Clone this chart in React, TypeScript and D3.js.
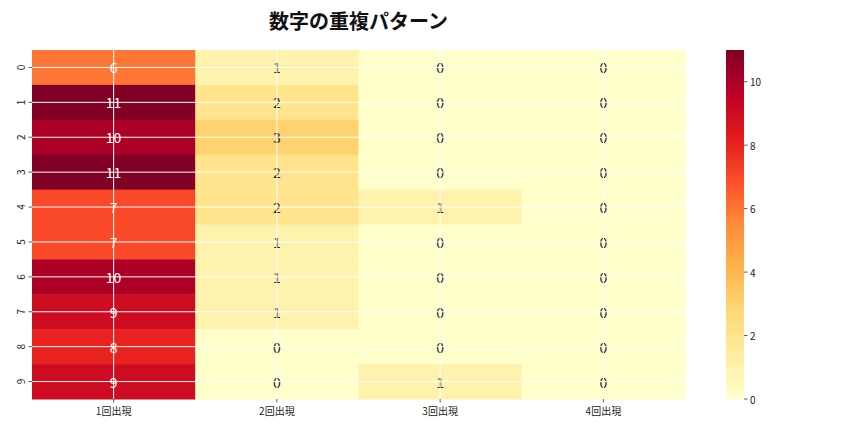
import React from 'react';
import * as d3 from 'd3';

const rowLabels = ['0', '1', '2', '3', '4', '5', '6', '7', '8', '9'];
const colLabels = ['1回出現', '2回出現', '3回出現', '4回出現'];
const once = [6, 11, 10, 11, 7, 7, 10, 9, 8, 9];
const twice = [1, 2, 3, 2, 2, 1, 1, 1, 0, 0];
const thrice = [0, 0, 0, 0, 1, 0, 0, 0, 0, 1];
const fourTimes = [0, 0, 0, 0, 0, 0, 0, 0, 0, 0];
const colorTicks = [0, 2, 4, 6, 8, 10];
const vmax = 11;

const series = [once, twice, thrice, fourTimes];
const font = '"Noto Sans CJK JP", "DejaVu Sans", sans-serif';

const App = () => {
  const W = 864, H = 432;
  const left = 32, right = 685, top = 50, bottom = 399;

  const x = d3.scaleBand().domain(colLabels).range([left, right]);
  const y = d3.scaleBand().domain(rowLabels).range([top, bottom]);

  const stops = d3.schemeYlOrRd[9] as readonly string[];
  const color = d3.scaleLinear<string>()
    .domain(stops.map((_, i) => (i * vmax) / (stops.length - 1)))
    .range(stops as string[])
    .interpolate(d3.interpolateRgb);

  const cb = { x: 726, w: 18 };
  const cy = d3.scaleLinear().domain([0, vmax]).range([bottom, top]);

  const cells = series.flatMap((vals, c) =>
    vals.map((v, r) => ({ c: colLabels[c], r: rowLabels[r], v }))
  );

  // same rule as seaborn: relative luminance of the cell colour
  const textColor = (v: number) => {
    const rgb = d3.rgb(color(v));
    const lin = (u: number) => {
      const s = u / 255;
      return s <= 0.03928 ? s / 12.92 : Math.pow((s + 0.055) / 1.055, 2.4);
    };
    const lum = 0.2126 * lin(rgb.r) + 0.7152 * lin(rgb.g) + 0.0722 * lin(rgb.b);
    return lum > 0.408 ? '#262626' : '#ffffff';
  };

  return (
    <div style={{ position: 'absolute', left: 0, top: 0 }}>
      <svg width={W} height={H} style={{ display: 'block', background: '#fff' }} fontFamily={font}>
        <defs>
          <linearGradient id="cbar" x1="0" y1="1" x2="0" y2="0">
            {stops.map((s, i) => (
              <stop key={i} offset={i / (stops.length - 1)} stopColor={s} />
            ))}
          </linearGradient>
        </defs>

        <text x={(left + right) / 2} y={29} textAnchor="middle" fontSize={20} fontWeight="bold" fill="#111">
          数字の重複パターン
        </text>

        {cells.map((d, i) => (
          <rect key={i} x={x(d.c)} y={y(d.r)} width={x.bandwidth() + 0.5} height={y.bandwidth() + 0.5} fill={color(d.v)} />
        ))}

        {cells.map((d, i) => (
          <text
            key={'t' + i}
            x={(x(d.c) as number) + x.bandwidth() / 2}
            y={(y(d.r) as number) + y.bandwidth() / 2}
            textAnchor="middle"
            dominantBaseline="central"
            fontSize={14}
            fill={textColor(d.v)}
          >
            {d.v}
          </text>
        ))}

        {colLabels.map((c) => {
          const cx = (x(c) as number) + x.bandwidth() / 2;
          return <line key={'gv' + c} x1={cx} x2={cx} y1={top} y2={bottom} stroke="#fff" strokeWidth={1} />;
        })}
        {rowLabels.map((r) => {
          const ry = (y(r) as number) + y.bandwidth() / 2;
          return <line key={'gh' + r} x1={left} x2={right} y1={ry} y2={ry} stroke="#fff" strokeWidth={1} />;
        })}

        {rowLabels.map((r) => {
          const ry = (y(r) as number) + y.bandwidth() / 2;
          return (
            <g key={'yl' + r}>
              <line x1={left - 3.5} x2={left} y1={ry} y2={ry} stroke="#333" strokeWidth={0.8} />
              <text
                transform={`translate(${left - 12},${ry}) rotate(-90)`}
                textAnchor="middle"
                dominantBaseline="central"
                fontSize={10}
                fill="#222"
              >
                {r}
              </text>
            </g>
          );
        })}

        {colLabels.map((c) => {
          const cx = (x(c) as number) + x.bandwidth() / 2;
          return (
            <g key={'xl' + c}>
              <line x1={cx} x2={cx} y1={bottom} y2={bottom + 3.5} stroke="#333" strokeWidth={0.8} />
              <text x={cx} y={415} textAnchor="middle" fontSize={10} fill="#222">
                {c}
              </text>
            </g>
          );
        })}

        <rect x={cb.x} y={top} width={cb.w} height={bottom - top} fill="url(#cbar)" />
        {colorTicks.map((t) => (
          <g key={'ct' + t}>
            <line x1={cb.x + cb.w} x2={cb.x + cb.w + 3.5} y1={cy(t)} y2={cy(t)} stroke="#333" strokeWidth={0.8} />
            <text x={cb.x + cb.w + 6} y={cy(t)} dominantBaseline="central" fontSize={10} fill="#222">
              {t}
            </text>
          </g>
        ))}
      </svg>
    </div>
  );
};

export default App;
